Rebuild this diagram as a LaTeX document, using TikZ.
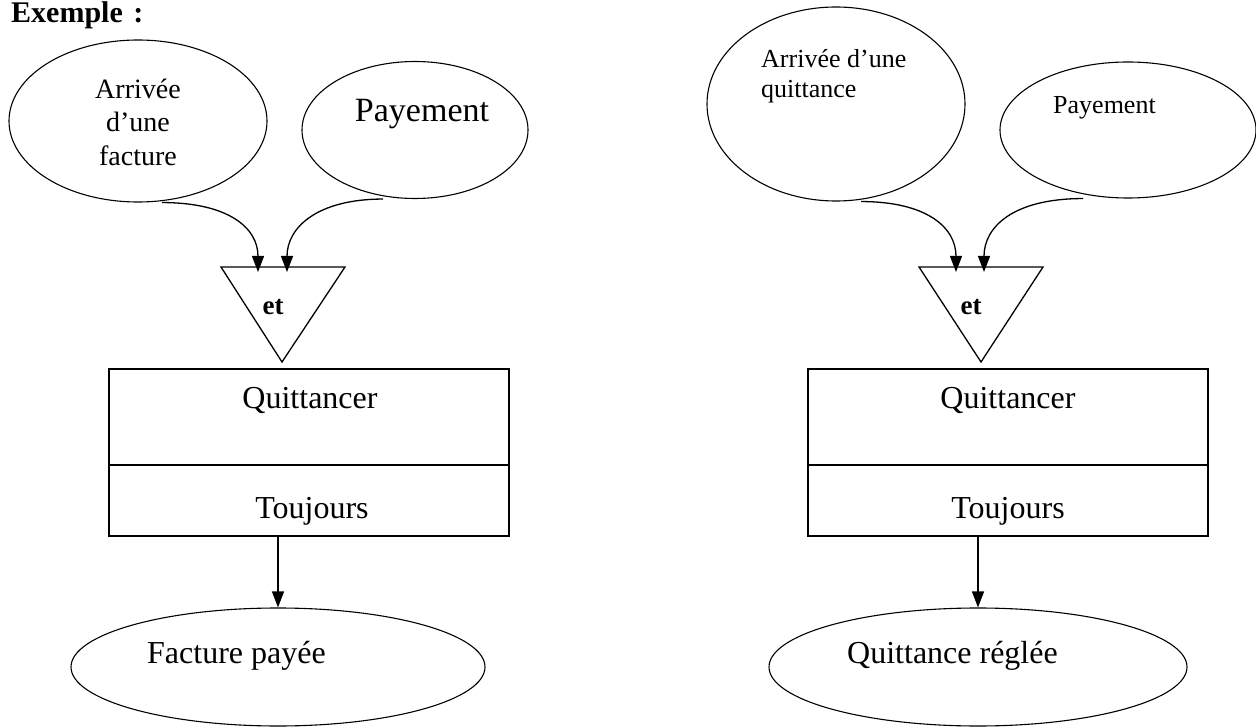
\documentclass[tikz,border=0pt]{standalone}
\usepackage{fontspec}
\setmainfont{Liberation Serif}
\usetikzlibrary{shapes.geometric,arrows.meta,calc}

\tikzset{
  bubble/.style={ellipse, draw, line width=1.1pt, inner sep=0pt},
  procbox/.style={rectangle, draw, line width=1.4pt, minimum width=400pt, inner sep=0pt},
  lbl/.style={inner sep=0pt, anchor=base},
  lblw/.style={inner sep=0pt, anchor=base west},
  flow/.style={line width=1.3pt, -{Triangle[length=16pt,width=12pt]}},
  gate/.style={draw, line width=1.3pt},
  fs/.style={font=\fontsize{#1}{#1}\selectfont},
  fsb/.style={font=\fontsize{#1}{#1}\selectfont\bfseries},
}

\begin{document}
\begin{tikzpicture}[x=1pt,y=-1pt]
\useasboundingbox (0,0) rectangle (1256,727);

% heading
\node[lblw, fsb=30] (title) at (11,23) {Exemple\hspace{3pt} :};

% ===== left example =====
\node[bubble, minimum width=258pt, minimum height=162pt] (la) at (138,121) {};
\node[lbl, fs=28] (la1) at (138,99) {Arrivée};
\node[lbl, fs=28] (la2) at (138,132) {d’une};
\node[lbl, fs=28] (la3) at (138,166) {facture};

\node[bubble, minimum width=226pt, minimum height=137pt] (lp) at (415,130) {};
\node[lbl, fs=34] (lpt) at (422,122) {Payement};

% "et" gate
\coordinate (lgL) at (221,267);
\coordinate (lgR) at (345,267);
\coordinate (lgB) at (282,362);
\draw[gate] (lgL) -- (lgR) -- (lgB) -- cycle;
\node[lbl, fsb=27] (let) at (273,315) {et};
\coordinate (lin1) at (258,272);
\coordinate (lin2) at (287,272);

\draw[flow] ($(la.south)+(24,0)$) .. controls +(65,0) and +(0,-45) .. (lin1);
\draw[flow] ($(lp.south)+(-32,0)$) .. controls +(-65,0) and +(0,-45) .. (lin2);

% process box
\node[procbox, minimum height=96pt] (lq) at (309,417) {};
\node[procbox, minimum height=71pt] (lt) at (309,500.5) {};
\node[lbl, fs=32] (lqt) at (310,408) {Quittancer};
\node[lbl, fs=32] (ltt) at (312,518) {Toujours};

% result
\node[bubble, minimum width=414pt, minimum height=118pt] (lr) at (278,667) {};
\node[lblw, fs=32] (lrt) at (147,663) {Facture payée};
\draw[flow] (lt.south -| lr.north) -- (lr.north);

% ===== right example =====
\node[bubble, minimum width=258pt, minimum height=194pt] (ra) at (836,104) {};
\node[lblw, fs=26] (ra1) at (761,68) {Arrivée d’une};
\node[lblw, fs=26] (ra2) at (761,98) {quittance};

\node[bubble, minimum width=256pt, minimum height=136pt] (rp) at (1128,130) {};
\node[lblw, fs=26] (rpt) at (1053,114) {Payement};

\coordinate (rgL) at (919,267);
\coordinate (rgR) at (1043,267);
\coordinate (rgB) at (981,362);
\draw[gate] (rgL) -- (rgR) -- (rgB) -- cycle;
\node[lbl, fsb=27] (ret) at (971,315) {et};
\coordinate (rin1) at (956,272);
\coordinate (rin2) at (984,272);

\draw[flow] ($(ra.south)+(25,0)$) .. controls +(65,0) and +(0,-45) .. (rin1);
\draw[flow] ($(rp.south)+(-45,0)$) .. controls +(-70,0) and +(0,-45) .. (rin2);

\node[procbox, minimum height=96pt] (rq) at (1008,417) {};
\node[procbox, minimum height=71pt] (rt) at (1008,500.5) {};
\node[lbl, fs=32] (rqt) at (1008,408) {Quittancer};
\node[lbl, fs=32] (rtt) at (1008,518) {Toujours};

\node[bubble, minimum width=418pt, minimum height=118pt] (rr) at (978,667) {};
\node[lblw, fs=32] (rrt) at (847,663) {Quittance réglée};
\draw[flow] (rt.south -| rr.north) -- (rr.north);
\end{tikzpicture}
\end{document}
